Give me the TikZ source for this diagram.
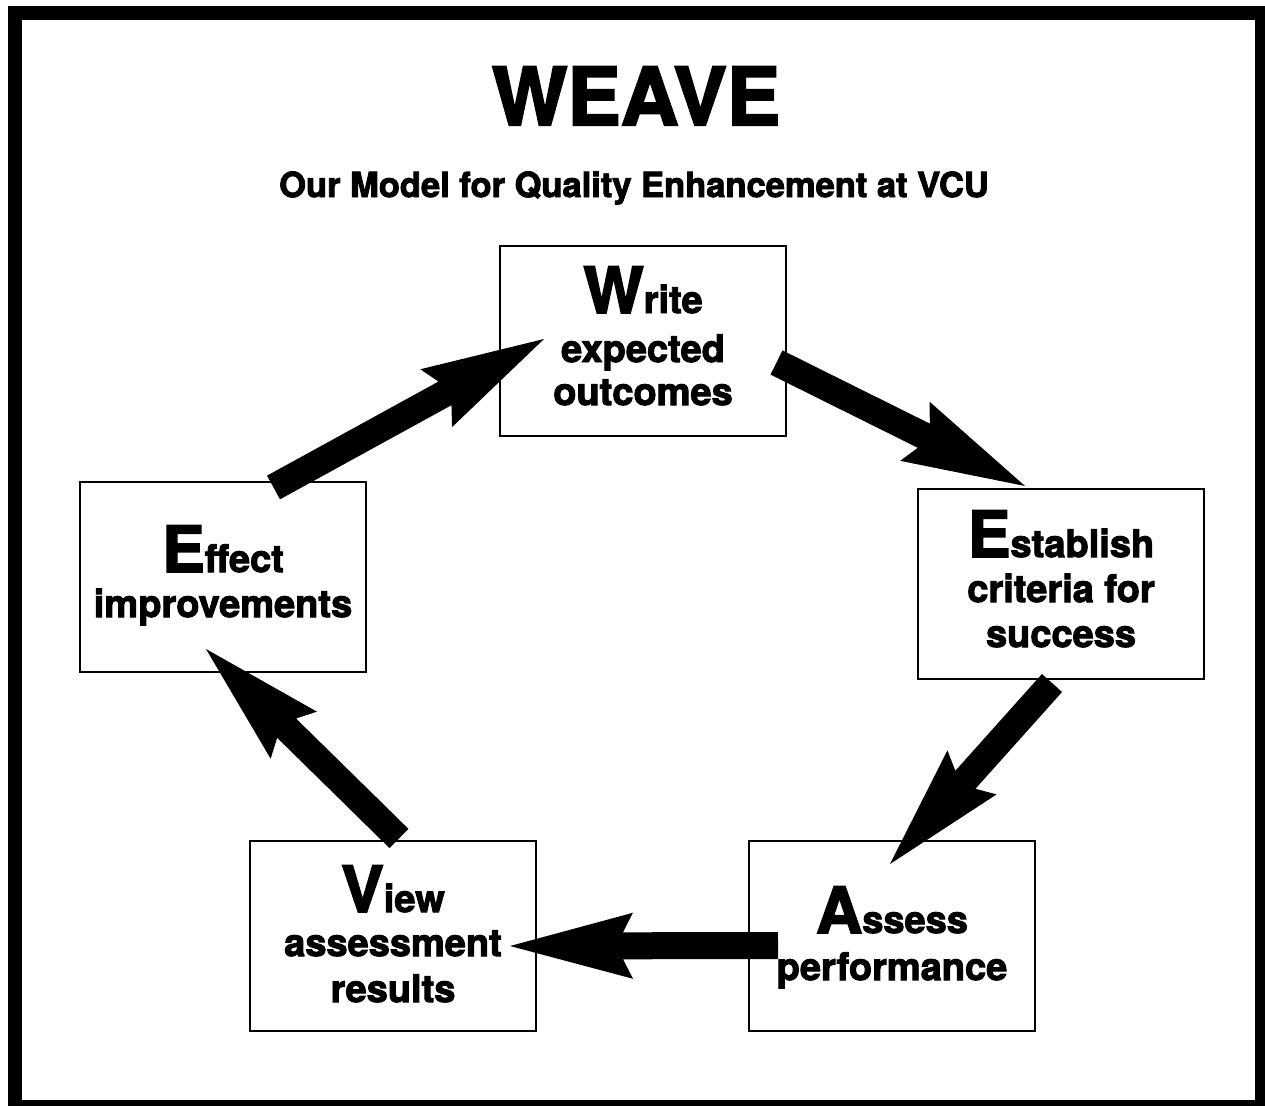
\documentclass[tikz,border=0pt]{standalone}
\usepackage{fontspec}
\setmainfont{TeX Gyre Heros}[BoldFeatures={FakeBold=2.6}]
\usetikzlibrary{calc}
\newcommand\bigini[1]{{\fontsize{64}{64}\selectfont #1}}
\newcommand\bigarrow[2]{%
  \coordinate (aJ) at ($(#2)!113pt!(#1)$);
  \coordinate (aB) at ($(#2)!123pt!(#1)$);
  \fill[black] ($(#1)!13.5pt!90:(#2)$) -- ($(aJ)!13.5pt!90:(#2)$) -- ($(aB)!33pt!90:(#2)$) -- (#2)
    -- ($(aB)!33pt!-90:(#2)$) -- ($(aJ)!13.5pt!-90:(#2)$) -- ($(#1)!13.5pt!-90:(#2)$) -- cycle;}
\begin{document}
\begin{tikzpicture}[x=1pt,y=-1pt,
  box/.style={draw, line width=2pt, minimum width=286pt, minimum height=190pt, inner sep=0pt},
  lbl/.style={font=\bfseries\fontsize{38}{38}\selectfont, inner sep=0pt, anchor=base}]
\useasboundingbox (0,0) rectangle (1265,1105);
\fill[white] (0,0) rectangle (1265,1105);
\draw[line width=14pt] (15,13.5) rectangle (1262,1107);
% title
\node[font=\bfseries\fontsize{80}{80}\selectfont, inner sep=0pt, anchor=base] (title) at (636,125) {WEAVE};
\node[font=\bfseries\fontsize{34.5}{34.5}\selectfont, inner sep=0pt, anchor=base] (sub) at (634,197) {Our Model for Quality Enhancement at VCU};
% boxes
\node[box] (wb) at (643,341) {};
\node[box] (eb) at (1061,584) {};
\node[box] (ab) at (892,936) {};
\node[box] (vb) at (393,936) {};
\node[box] (fb) at (223,576.5) {};
% texts
\node[lbl] (w1) at (643,313) {\bigini{W}rite};
\node[lbl] (w2) at (643,362) {expected};
\node[lbl] (w3) at (643,405) {outcomes};
\node[lbl] (e1) at (1061,557) {\bigini{E}stablish};
\node[lbl] (e2) at (1061,602) {criteria for};
\node[lbl] (e3) at (1061,647) {success};
\node[lbl] (a1) at (892,933) {\bigini{A}ssess};
\node[lbl] (a2) at (892,980) {performance};
\node[lbl] (v1) at (393,912) {\bigini{V}iew};
\node[lbl] (v2) at (393,956) {assessment};
\node[lbl] (v3) at (393,1002) {results};
\node[lbl] (f1) at (223,572) {\bigini{E}ffect};
\node[lbl] (f2) at (223,617) {improvements};
% arrow ends
\coordinate (s1) at (273.5,487.5); \coordinate (t1) at (544,339);
\coordinate (s2) at (776.5,362.5); \coordinate (t2) at (1025,486);
\coordinate (s3) at (1052,683);   \coordinate (t3) at (890,864);
\coordinate (s4) at (778,945.5);  \coordinate (t4) at (510,946);
\coordinate (s5) at (399,838.5);  \coordinate (t5) at (206,649);
\bigarrow{s1}{t1}
\bigarrow{s2}{t2}
\bigarrow{s3}{t3}
\bigarrow{s4}{t4}
\bigarrow{s5}{t5}
\end{tikzpicture}
\end{document}
